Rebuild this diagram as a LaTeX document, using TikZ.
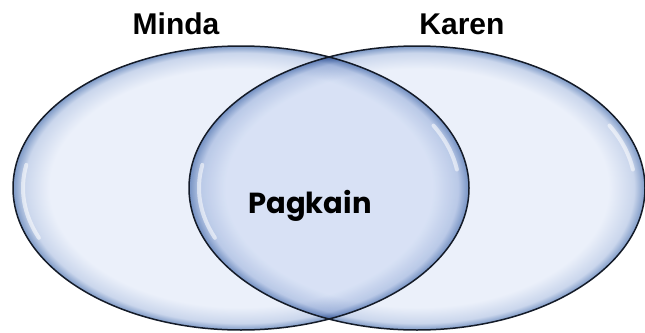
\documentclass[tikz,border=0pt]{standalone}
\usepackage{fontspec}
\setmainfont{Liberation Sans}
\newfontfamily\gothicfont{Poppins}
\definecolor{setfill}{HTML}{EBF0FA}
\definecolor{setmid}{HTML}{CAD6EC}
\definecolor{setrim}{HTML}{7D99C6}
\definecolor{setline}{HTML}{141B28}
\pgfdeclareradialshading{setglass}{\pgfpoint{0bp}{0bp}}{color(0bp)=(setfill); color(21bp)=(setfill); color(23.8bp)=(setmid); color(25bp)=(setrim); color(50bp)=(setrim)}
\begin{document}
\begin{tikzpicture}[x=1pt, y=-1pt,
    setlabel/.style={font=\bfseries\fontsize{30}{30}\selectfont, text=black},
    shine/.style={white, line width=4, opacity=0.55, line cap=round}]
    \useasboundingbox (0,0) rectangle (645,332);
    % the two sets
    \shade[shading=setglass] (241,188) ellipse [x radius=228, y radius=142];
    \begin{scope}[blend mode=multiply]
        \shade[shading=setglass] (417,188) ellipse [x radius=228, y radius=142];
    \end{scope}
    % glossy streaks
    \draw[shine] (241,188) ++(158:218 and 133) arc [start angle=158, end angle=190, x radius=218, y radius=133];
    \draw[shine] (417,188) ++(158:218 and 133) arc [start angle=158, end angle=190, x radius=218, y radius=133];
    \draw[shine] (241,188) ++(-8:218 and 133) arc [start angle=-8, end angle=-28, x radius=218, y radius=133];
    \draw[shine] (417,188) ++(-8:218 and 133) arc [start angle=-8, end angle=-28, x radius=218, y radius=133];
    \draw[setline, line width=1.5] (241,188) ellipse [x radius=228, y radius=142];
    \draw[setline, line width=1.5] (417,188) ellipse [x radius=228, y radius=142];
    % labels
    \node[setlabel] (minda) at (176,24) {Minda};
    \node[setlabel] (karen) at (462,24) {Karen};
    \node[setlabel, font=\gothicfont\bfseries\fontsize{29}{29}\selectfont, anchor=base] (pagkain) at (310,213) {Pagkain};
\end{tikzpicture}
\end{document}
